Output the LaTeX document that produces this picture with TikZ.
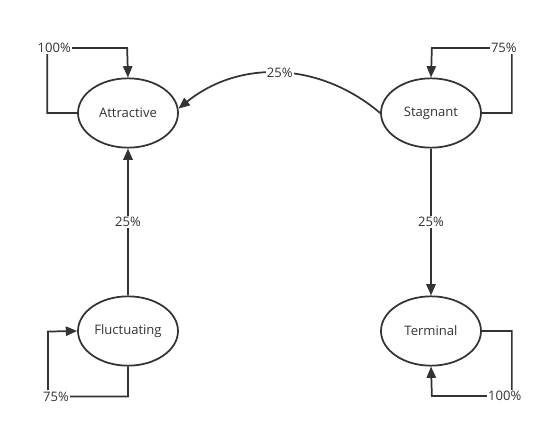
\documentclass[tikz,border=0pt]{standalone}
\usepackage{fontspec}
\setmainfont{Open Sans}
\usetikzlibrary{arrows.meta,shapes.geometric}
\definecolor{ink}{HTML}{333333}

\begin{document}
\begin{tikzpicture}[x=0.75pt,y=-0.75pt,
    state/.style={draw=ink,line width=1.3pt,ellipse,minimum width=75pt,minimum height=52pt,
      inner sep=0pt,font=\fontsize{9.8}{12}\selectfont,text=ink},
    arr/.style={draw=ink,line width=1.3pt,-{Triangle[length=8.5pt,width=7pt]}},
    lbl/.style={fill=white,inner sep=1pt,font=\fontsize{9.8}{12}\selectfont,text=ink}]
  \useasboundingbox (0,0) rectangle (543,428);
  % states
  \node[state] (attr) at (128,113) {Attractive};
  \node[state] (stag) at (431,113) {Stagnant};
  \node[state] (fluc) at (128,331) {Fluctuating};
  \node[state] (term) at (431,331) {Terminal};
  % self loops
  \draw[arr] (attr.west) -- ++(-30,0) -- ++(0,-65) -- node[lbl,pos=0.09]{100\%} ++(80,0) -- (attr.north);
  \draw[arr] (stag.east) -- ++(30,0) -- ++(0,-65) -- node[lbl,pos=0.1]{75\%} ++(-80,0) -- (stag.north);
  \draw[arr] (fluc.south) -- ++(0,30) -- node[lbl,pos=0.9]{75\%} ++(-80,0) -- ++(0,-65) -- (fluc.west);
  \draw[arr] (term.east) -- ++(30,0) -- ++(0,65) -- node[lbl,pos=0.09]{100\%} ++(-80,0) -- (term.south);
  % transitions
  \draw[arr] (fluc) -- node[lbl]{25\%} (attr);
  \draw[arr] (stag) -- node[lbl]{25\%} (term);
  \draw[arr] (stag.west) .. controls (320,62) and (240,59) .. node[lbl]{25\%} (attr.5);
\end{tikzpicture}
\end{document}
